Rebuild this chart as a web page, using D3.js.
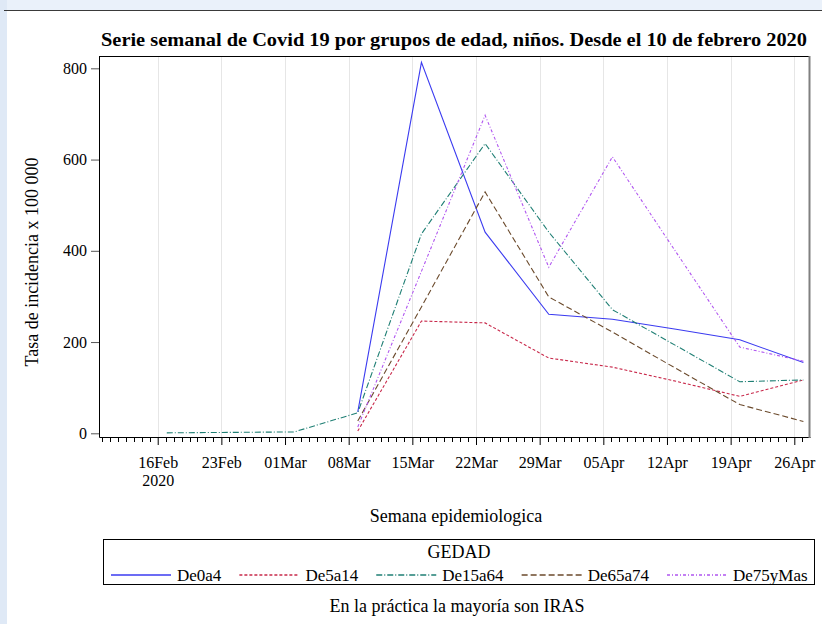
<!DOCTYPE html>
<html><head><meta charset="utf-8">
<script src="https://cdn.jsdelivr.net/npm/d3@7"></script>
<style>
html,body{margin:0;padding:0;background:#fff;}
svg{display:block;font-family:"Liberation Serif","Times New Roman",serif;}
</style></head>
<body><svg id="c" width="822" height="624"></svg>
<script>
// ---- data ----
const weeks = ["2020-02-17","2020-02-24","2020-03-02","2020-03-09","2020-03-16","2020-03-23","2020-03-30","2020-04-06","2020-04-13","2020-04-20","2020-04-27"];
const de0a4    = [null,null,null,47,813,441,261,250,228,205,155];
const de5a14   = [null,null,null,5,246,242,165,145,114,81,117];
const de15a64  = [1,2,3,45,437,635,441,271,192,113,117];
const de65a74  = [null,null,null,27,277,529,299,222,142,63,26];
const de75yMas = [null,null,null,14,355,697,364,606,397,189,158];
const seriesNames = ["De0a4","De5a14","De15a64","De65a74","De75yMas"];
const yTicks = [0,200,400,600,800];
const title = "Serie semanal de Covid 19 por grupos de edad, niños. Desde el 10 de febrero 2020";
const yLabel = "Tasa de incidencia x 100 000";
const xLabel = "Semana epidemiologica";
const legendTitle = "GEDAD";
const footnote = "En la práctica la mayoría son IRAS";

const seriesValues = [de0a4,de5a14,de15a64,de65a74,de75yMas];
const colors = ["#3b3bf0","#c8284a","#1f7f74","#6b4a2c","#b055f0"];
const dashes = ["none","3,2","6,2,1,2","6,3","3,2,1,2"];

const svg = d3.select("#c");
const parse = d3.utcParse("%Y-%m-%d");
const dates = weeks.map(parse);

// background decoration
svg.append("rect").attr("x",0).attr("y",0).attr("width",822).attr("height",10).attr("fill","#eaf1fa");
svg.append("rect").attr("x",0).attr("y",0).attr("width",7).attr("height",624).attr("fill","#dfe9f6");
svg.append("line").attr("x1",4).attr("x2",822).attr("y1",10.5).attr("y2",10.5).attr("stroke","#3a3a3a");

const L = 99, R = 810, T = 56, B = 437;
const dayMs = 86400000;
const x = d3.scaleUtc()
  .domain([new Date(Date.UTC(2020,1,16) - 6.455*dayMs), new Date(Date.UTC(2020,3,26) + 1.726*dayMs)])
  .range([L, R]);
const y = d3.scaleLinear().domain([-8.1, 827]).range([B, T]);

const majors = d3.utcWeek.range(x.domain()[0], x.domain()[1]);
// gridlines
svg.append("g").selectAll("line").data(majors).join("line")
  .attr("x1",d=>Math.round(x(d))+0.5).attr("x2",d=>Math.round(x(d))+0.5)
  .attr("y1",T).attr("y2",B).attr("stroke","#e6e6e6");

// minor ticks (7 between majors)
const minors = [];
d3.utcWeek.range(d3.utcWeek.offset(x.domain()[0],-1), x.domain()[1]).forEach(w=>{
  for(let k=1;k<8;k++){ const d=new Date(+w + k*7*dayMs/8); if(d>=x.domain()[0] && d<=x.domain()[1]) minors.push(d); }
});
svg.append("g").selectAll("line").data(minors).join("line")
  .attr("x1",d=>Math.round(x(d))+0.5).attr("x2",d=>Math.round(x(d))+0.5)
  .attr("y1",B).attr("y2",B+5).attr("stroke","#000");

// axes
const fmt = d3.utcFormat("%d%b");
const xAxis = svg.append("g").attr("transform",`translate(0,${B})`)
  .call(d3.axisBottom(x).tickValues(majors).tickSize(8).tickSizeOuter(0).tickPadding(12).tickFormat(fmt));
xAxis.selectAll("text").attr("font-size","16px").attr("fill","#000").attr("font-family","Liberation Serif");
xAxis.select(".tick text").each(function(){
  const t=d3.select(this);
  t.append("tspan").attr("x",0).attr("dy","1.1em").text(d3.utcFormat("%Y")(majors[0]));
});
xAxis.select(".domain").attr("stroke","#000");

const yAxis = svg.append("g").attr("transform",`translate(${L},0)`)
  .call(d3.axisLeft(y).tickValues(yTicks).tickSize(8).tickSizeOuter(0).tickPadding(4));
yAxis.selectAll("text").attr("font-size","16px").attr("fill","#000").attr("font-family","Liberation Serif");
yAxis.selectAll(".tick line").attr("stroke","#555");
yAxis.select(".domain").attr("stroke","#000");

// frame top and right
svg.append("line").attr("x1",L).attr("x2",R).attr("y1",T+0.5).attr("y2",T+0.5).attr("stroke","#000");
svg.append("line").attr("x1",R-0.5).attr("x2",R-0.5).attr("y1",T).attr("y2",B+1).attr("stroke","#808080").attr("stroke-width",2);

// lines
const line = d3.line().defined(d=>d.v!=null).x(d=>x(d.d)).y(d=>y(d.v));
seriesValues.forEach((vals,i)=>{
  svg.append("path").datum(vals.map((v,j)=>({d:dates[j],v})))
    .attr("d",line).style("fill","none").style("stroke",colors[i])
    .style("stroke-width","1.1px").style("stroke-dasharray",dashes[i]);
});

// title
svg.append("text").attr("x",101).attr("y",46).attr("font-size","19.5px").attr("font-weight","bold")
  .attr("textLength",706).attr("lengthAdjust","spacingAndGlyphs").text(title);

// axis labels
svg.append("text").attr("transform","translate(38,262) rotate(-90)").attr("text-anchor","middle")
  .attr("font-size","18px").text(yLabel);
svg.append("text").attr("x",456).attr("y",522).attr("text-anchor","middle").attr("font-size","18px").text(xLabel);

// legend
const lg = svg.append("g");
lg.append("rect").attr("x",103.5).attr("y",539.5).attr("width",711).attr("height",45).style("fill","none").style("stroke","#000");
lg.append("text").attr("x",459).attr("y",558).attr("text-anchor","middle").attr("font-size","18px").text(legendTitle);
let cx = 111;
seriesNames.forEach((n,i)=>{
  lg.append("path").attr("d",`M${cx},575H${cx+60}`)
    .style("stroke",colors[i]).style("stroke-width","1.4px").style("stroke-dasharray",dashes[i]).style("fill","none");
  const t = lg.append("text").attr("x",cx+66).attr("y",581).attr("font-size","17px").text(n);
  cx += 66 + t.node().getComputedTextLength() + 18;
});

svg.append("text").attr("x",457).attr("y",612).attr("text-anchor","middle").attr("font-size","18px").text(footnote);
</script></body></html>
